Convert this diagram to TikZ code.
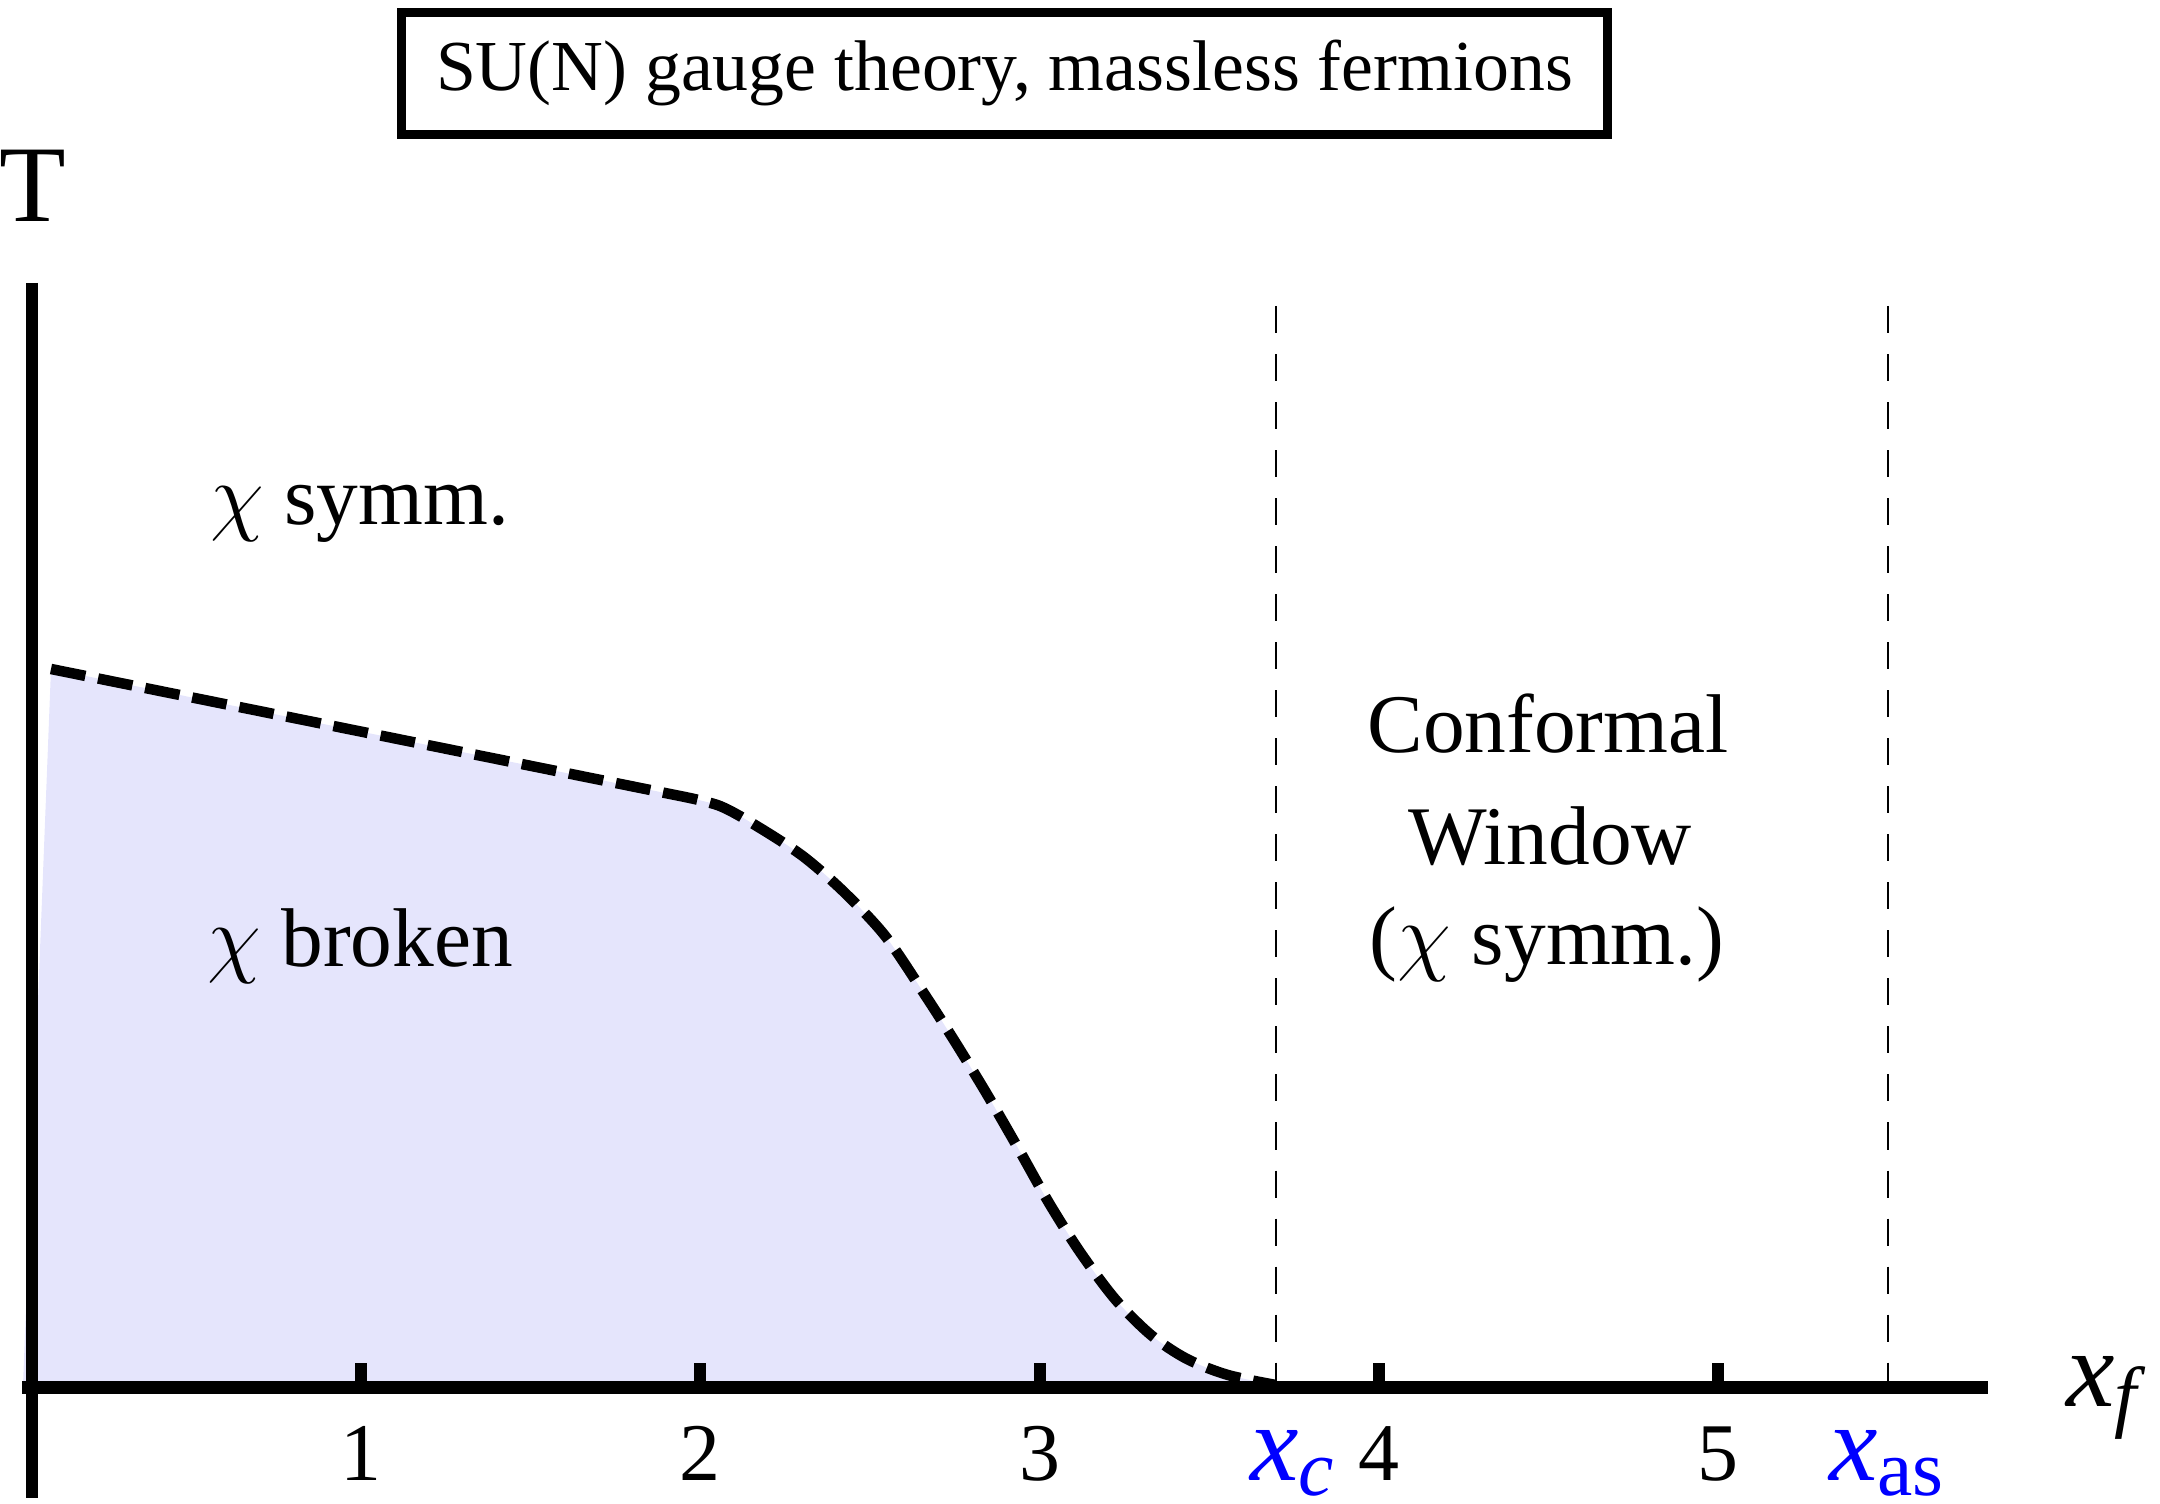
\documentclass[tikz,border=0pt]{standalone}
\usepackage{fontspec}
\setmainfont{Liberation Serif}
\definecolor{fillc}{RGB}{229,229,252}
\definecolor{lblue}{RGB}{0,0,255}
\newcommand\myfs[1]{\fontsize{#1}{#1}\selectfont}
\newcommand\chisym{$\chi$}
\newcommand\lowsub[1]{\raisebox{-0.15cm}[0pt][0pt]{#1}}
\begin{document}
\begin{tikzpicture}[x=0.01cm,y=-0.01cm,
  lbl/.style={inner sep=0pt, outer sep=0pt},
  region/.style={lbl, font=\myfs{23.7}},
  ticklbl/.style={lbl, anchor=base, font=\myfs{23.3}},
  axislbl/.style={lbl, font=\myfs{31}},
  axisline/.style={line width=0.12cm, line cap=butt},
  tickline/.style={line width=0.12cm, line cap=butt},
  guide/.style={line width=0.028cm, dash pattern=on 0.27cm off 0.21cm},
  boundary/.style={line width=0.105cm, dash pattern=on 0.35cm off 0.13cm, line join=round}]
\useasboundingbox (0,0) rectangle (2160,1504);

% filled chirally broken region
\fill[fillc] (51,669) -- (680,796) -- plot[smooth, tension=0.5] coordinates {(680,796) (720,806) (760,828) (804,857) (845,893) (886,937) (927,998) (957,1045) (988,1096) (1018,1148) (1049,1203) (1080,1252) (1115,1299) (1151,1335) (1187,1359) (1228,1375) (1276,1385)} -- (23,1385) -- cycle;

% title box
\node[draw, line width=0.09cm, minimum width=12.05cm, minimum height=1.215cm, inner sep=0pt, font=\myfs{20.4}] (title) at (1004.5,73.25) {SU(N) gauge theory, massless fermions};

% guide lines
\coordinate (xctop) at (1276,306);
\coordinate (xcbot) at (1276,1387);
\coordinate (xastop) at (1888,306);
\coordinate (xasbot) at (1888,1387);
\draw[guide] (xctop) -- (xcbot);
\draw[guide] (xastop) -- (xasbot);

% axes
\coordinate (ytop) at (32,283);
\coordinate (ybot) at (32,1498);
\coordinate (xleft) at (22,1387.5);
\coordinate (xright) at (1988,1387.5);
\draw[axisline] (ytop) -- (ybot);
\draw[axisline] (xleft) -- (xright);
\foreach \k/\xx in {1/361,2/700,3/1040,4/1379,5/1718}{
  \coordinate (tk\k a) at (\xx,1363);
  \coordinate (tk\k b) at (\xx,1387);
  \draw[tickline] (tk\k a) -- (tk\k b);
  \node[ticklbl] (t\k) at (\xx,1480) {\k};
}

% boundary curve
\draw[boundary] (51,669) -- (680,796) -- plot[smooth, tension=0.5] coordinates {(680,796) (720,806) (760,828) (804,857) (845,893) (886,937) (927,998) (957,1045) (988,1096) (1018,1148) (1049,1203) (1080,1252) (1115,1299) (1151,1335) (1187,1359) (1228,1375) (1276,1385)};

% axis labels
\node[axislbl, anchor=base] (T) at (33,222) {T};
\node[axislbl, anchor=base west] (xf) at (2066,1406) {\textit{x}\raisebox{-0.16cm}{\myfs{22.6}\textit{f}}};
\node[axislbl, anchor=base west, text=lblue] (xc) at (1250,1480) {\textit{x}\lowsub{\myfs{22.6}\textit{c}}};
\node[axislbl, anchor=base west, text=lblue] (xas) at (1829,1480) {\textit{x}\lowsub{\myfs{22.6}as}};

% region labels
\node[region, anchor=base west] (symm) at (210,525) {\chisym{} symm.};
\node[region, anchor=base west] (broken) at (207,967) {\chisym{} broken};
\node[region, anchor=base] (cw1) at (1548,753) {Conformal};
\node[region, anchor=base] (cw2) at (1550,865) {Window};
\node[region, anchor=base] (cw3) at (1547,965) {(\chisym{} symm.)};
\end{tikzpicture}
\end{document}
